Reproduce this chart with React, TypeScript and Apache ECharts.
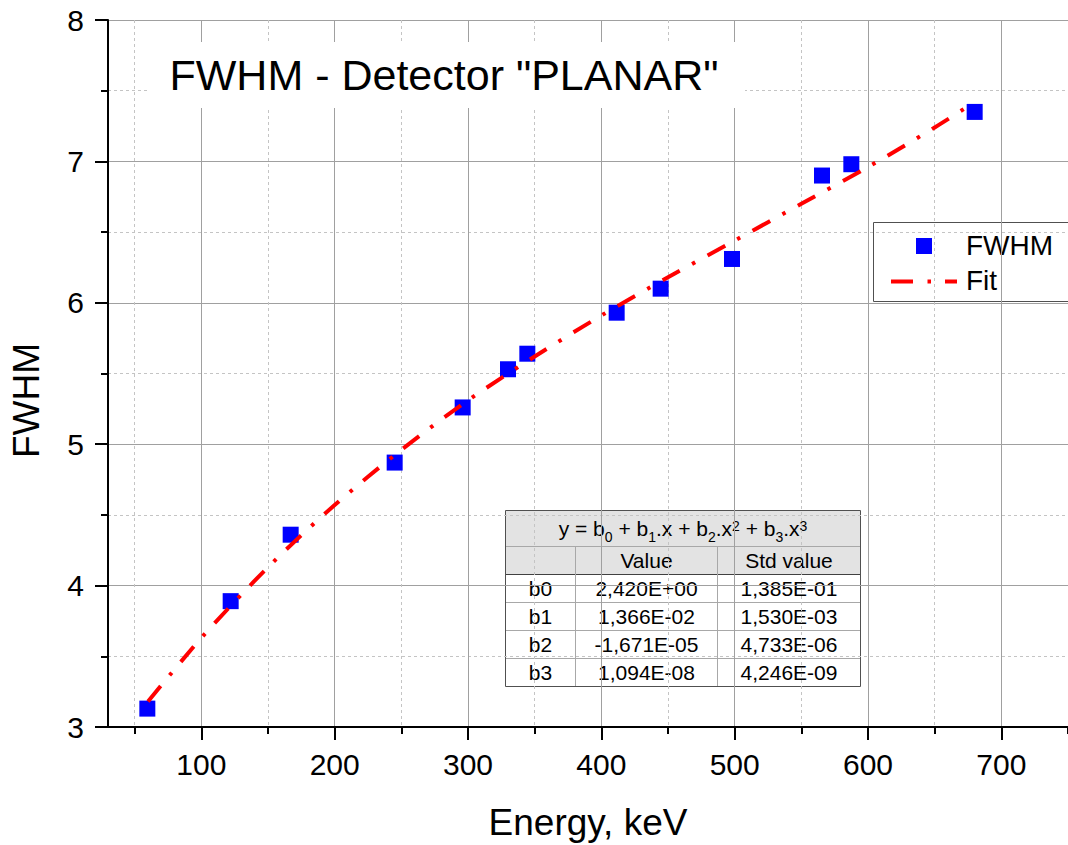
import React, { useEffect, useRef } from "react";
import * as echarts from "echarts";

// Measured points (Energy keV, FWHM)
const energy = [59.5, 122, 167, 245, 296, 330, 344.5, 411.5, 444.5, 498, 565.5, 587.5, 680];
const fwhm = [3.13, 3.89, 4.36, 4.87, 5.26, 5.53, 5.64, 5.93, 6.1, 6.31, 6.9, 6.98, 7.35];

// Fit curve
const fitEnergy = [60, 100, 150, 200, 250, 300, 350, 400, 450, 500, 550, 600, 650, 680];
const fitFwhm = [3.18, 3.63, 4.13, 4.57, 4.96, 5.31, 5.62, 5.91, 6.18, 6.44, 6.7, 6.96, 7.24, 7.42];

const xMajorTicks = [100, 200, 300, 400, 500, 600, 700];
const xMinorTicks = [50, 150, 250, 350, 450, 550, 650, 750];

const titleText = 'FWHM - Detector "PLANAR"';
const xName = "Energy, keV";
const yName = "FWHM";
const legendNames = ["FWHM", "Fit"];

const formulaRich = "y = b{s|0} + b{s|1}.x + b{s|2}.x{p|2} + b{s|3}.x{p|3}";
const tableHeader = ["", "Value", "Std value"];
const tableRows = [
  ["b0", "2,420E+00", "1,385E-01"],
  ["b1", "1,366E-02", "1,530E-03"],
  ["b2", "-1,671E-05", "4,733E-06"],
  ["b3", "1,094E-08", "4,246E-09"],
];

const FONT = "'Liberation Sans', Arial, sans-serif";

function buildTable(): any[] {
  const colX = [505.5, 575.5, 717.5, 860.5];
  const rowY = [510.5, 546.5, 574.5, 602.5, 630.5, 658.5, 686.5];
  const els: any[] = [];
  els.push({
    type: "rect",
    shape: { x: colX[0], y: rowY[0], width: colX[3] - colX[0], height: rowY[6] - rowY[0] },
    style: { fill: "#ffffff", stroke: null },
  });
  els.push({
    type: "rect",
    shape: { x: colX[0], y: rowY[0], width: colX[3] - colX[0], height: rowY[2] - rowY[0] },
    style: { fill: "#e3e3e3", stroke: null },
  });
  for (let i = 1; i < rowY.length - 1; i++) {
    const dark = i === 2;
    els.push({
      type: "line",
      shape: { x1: colX[0], y1: rowY[i], x2: colX[3], y2: rowY[i] },
      style: { stroke: dark ? "#404040" : "#a8a8a8", lineWidth: 1 },
    });
  }
  for (let j = 1; j < colX.length - 1; j++) {
    els.push({
      type: "line",
      shape: { x1: colX[j], y1: rowY[1], x2: colX[j], y2: rowY[6] },
      style: { stroke: "#a8a8a8", lineWidth: 1 },
    });
  }
  els.push({
    type: "rect",
    shape: { x: colX[0], y: rowY[0], width: colX[3] - colX[0], height: rowY[6] - rowY[0] },
    style: { fill: null, stroke: "#505050", lineWidth: 1 },
  });
  els.push({
    type: "text",
    x: (colX[0] + colX[3]) / 2,
    y: (rowY[0] + rowY[1]) / 2,
    style: {
      text: formulaRich,
      fontSize: 21,
      fontFamily: FONT,
      fill: "#000",
      align: "center",
      verticalAlign: "middle",
      lineHeight: 30,
      rich: {
        s: { fontSize: 14, fontFamily: FONT, fill: "#000", verticalAlign: "bottom", lineHeight: 14 },
        p: { fontSize: 14, fontFamily: FONT, fill: "#000", verticalAlign: "top", lineHeight: 14, padding: [5, 0, 0, 0] },
      },
    },
  });
  const allRows = [tableHeader, ...tableRows];
  allRows.forEach((row, r) => {
    row.forEach((cell, c) => {
      if (!cell) return;
      els.push({
        type: "text",
        x: (colX[c] + colX[c + 1]) / 2,
        y: (rowY[r + 1] + rowY[r + 2]) / 2,
        style: {
          text: cell,
          fontSize: 21,
          fontFamily: FONT,
          fill: "#000",
          align: "center",
          verticalAlign: "middle",
        },
      });
    });
  });
  return els;
}

function buildLegend(): any[] {
  return [
    {
      type: "rect",
      shape: { x: 873.5, y: 222.5, width: 200, height: 79 },
      style: { fill: "#ffffff", stroke: "#505050", lineWidth: 1 },
    },
    {
      type: "rect",
      shape: { x: 916, y: 238, width: 16, height: 16 },
      style: { fill: "#0000ff", stroke: null },
    },
    {
      type: "line",
      shape: { x1: 891, y1: 281.5, x2: 957, y2: 281.5 },
      style: { stroke: "#ff0000", lineWidth: 4, lineDash: [22, 14.5, 3.5, 14], lineCap: "butt" },
    },
    {
      type: "text",
      x: 966,
      y: 245.5,
      style: { text: legendNames[0], fontSize: 28, fontFamily: FONT, fill: "#000", align: "left", verticalAlign: "middle" },
    },
    {
      type: "text",
      x: 966,
      y: 280.5,
      style: { text: legendNames[1], fontSize: 28, fontFamily: FONT, fill: "#000", align: "left", verticalAlign: "middle" },
    },
  ];
}

export default function App() {
  const ref = useRef<HTMLDivElement>(null);

  useEffect(() => {
    if (!ref.current) return;
    const chart = echarts.init(ref.current, null, { renderer: "svg" });

    const axisBlack = { color: "#000", width: 2 };
    const majorGrid = { color: "#a0a0a0", width: 1, type: "solid" };
    const minorGrid = { color: "#c4c4c4", width: 1, type: [3, 3] };

    const option: any = {
      animation: false,
      backgroundColor: "#ffffff",
      textStyle: { fontFamily: FONT },
      grid: { left: 108, right: 0, top: 20, bottom: 118, containLabel: false, outerBoundsMode: "none" },
      xAxis: [
        {
          type: "value",
          position: "bottom",
          min: 30,
          max: 750,
          name: xName,
          nameLocation: "middle",
          nameGap: 77,
          nameMoveOverlap: false,
          nameTextStyle: { fontSize: 37, fontFamily: FONT, color: "#000" },
          axisLine: { show: true, onZero: false, lineStyle: axisBlack },
          axisTick: { show: true, inside: false, length: 13, lineStyle: axisBlack, customValues: xMajorTicks },
          axisLabel: { show: true, fontSize: 30, fontFamily: FONT, color: "#000", margin: 22, customValues: xMajorTicks },
          splitLine: { show: true, lineStyle: majorGrid },
          minorTick: { show: false },
          minorSplitLine: { show: false },
        },
        {
          type: "value",
          position: "bottom",
          min: 30,
          max: 750,
          offset: 0,
          axisLine: { show: false },
          axisTick: { show: true, inside: false, length: 7, lineStyle: axisBlack, customValues: xMinorTicks },
          axisLabel: { show: false },
          splitLine: { show: true, lineStyle: minorGrid },
          minorTick: { show: false },
          minorSplitLine: { show: false },
        },
      ],
      yAxis: {
        type: "value",
        min: 3,
        max: 8,
        interval: 1,
        name: yName,
        nameLocation: "middle",
        nameGap: 63,
        nameRotate: 90,
        nameMoveOverlap: false,
        nameTextStyle: { fontSize: 37, fontFamily: FONT, color: "#000", padding: [0, 54, 0, 0] },
        axisLine: { show: true, onZero: false, lineStyle: axisBlack },
        axisTick: { show: true, inside: false, length: 13, lineStyle: axisBlack },
        minorTick: { show: true, splitNumber: 2, length: 7, lineStyle: axisBlack },
        axisLabel: { show: true, fontSize: 30, fontFamily: FONT, color: "#000", margin: 24 },
        splitLine: { show: true, lineStyle: majorGrid },
        minorSplitLine: { show: true, lineStyle: minorGrid },
      },
      series: [
        {
          name: legendNames[0],
          type: "scatter",
          xAxisIndex: 0,
          symbol: "rect",
          symbolSize: 16,
          itemStyle: { color: "#0000ff", opacity: 1 },
          data: energy.map((e, i) => [e, fwhm[i]]),
          z: 3,
        },
        {
          name: legendNames[1],
          type: "line",
          xAxisIndex: 0,
          smooth: 0.3,
          showSymbol: false,
          symbol: "none",
          lineStyle: { color: "#ff0000", width: 4, type: [20, 14, 3.5, 14], cap: "butt" },
          data: fitEnergy.map((e, i) => [e, fitFwhm[i]]),
          z: 4,
        },
      ],
      graphic: [
        {
          type: "rect",
          shape: { x: 147, y: 42, width: 598, height: 66 },
          style: { fill: "#ffffff", stroke: null },
          z: 10,
        },
        {
          type: "text",
          x: 444,
          y: 75,
          z: 11,
          style: {
            text: titleText,
            fontSize: 43,
            fontFamily: FONT,
            fill: "#000",
            align: "center",
            verticalAlign: "middle",
          },
        },
        { type: "group", z: 10, children: buildLegend() },
        { type: "group", z: 10, children: buildTable() },
      ],
    };

    chart.setOption(option);
    return () => chart.dispose();
  }, []);

  return (
    <div
      ref={ref}
      style={{ position: "fixed", left: 0, top: 0, width: 1068, height: 845, background: "#fff" }}
    />
  );
}
